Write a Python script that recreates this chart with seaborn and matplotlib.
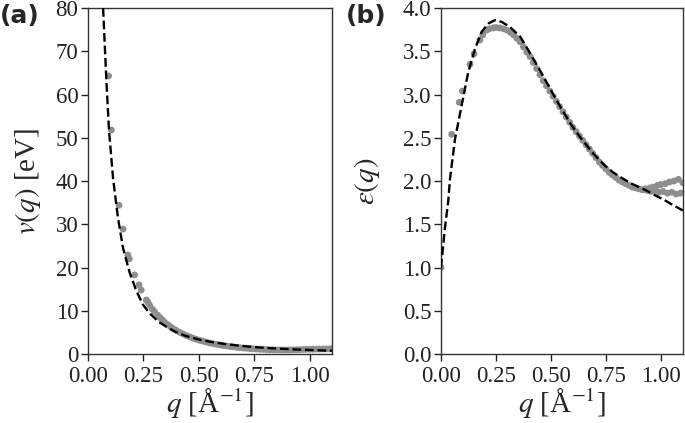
import matplotlib
matplotlib.use("Agg")
import matplotlib.pyplot as plt
import seaborn as sns
import pandas as pd
from matplotlib.ticker import FormatStrFormatter

# (a) v(q): data points and fit curve
qa_pts = [0.093, 0.105, 0.140, 0.158, 0.180, 0.186, 0.210, 0.230, 0.240, 0.263,
          0.270, 0.278, 0.290, 0.300, 0.315, 0.325, 0.335, 0.345, 0.360, 0.370,
          0.380, 0.390, 0.400, 0.415, 0.430, 0.445, 0.460, 0.475, 0.490, 0.505,
          0.520, 0.535, 0.550, 0.565, 0.580, 0.595, 0.610, 0.625, 0.640, 0.655,
          0.670, 0.685, 0.700, 0.715, 0.730, 0.745, 0.760, 0.775, 0.790, 0.805,
          0.820, 0.835, 0.850, 0.865, 0.880, 0.895, 0.910, 0.925, 0.940, 0.955,
          0.970, 0.985, 1.000, 1.015, 1.030, 1.045, 1.060, 1.075, 1.090, 1.100]
va_pts = [64.3, 51.8, 34.4, 28.9, 22.9, 22.0, 18.3, 16.0, 14.8, 12.5,
          12.0, 11.3, 10.4, 9.8, 9.0, 8.4, 7.9, 7.4, 6.8, 6.4,
          6.0, 5.7, 5.4, 5.0, 4.6, 4.25, 3.95, 3.65, 3.4, 3.15,
          2.95, 2.75, 2.55, 2.4, 2.25, 2.1, 1.97, 1.85, 1.75, 1.65,
          1.56, 1.48, 1.4, 1.34, 1.28, 1.22, 1.17, 1.12, 1.08, 1.04,
          1.0, 0.98, 0.96, 0.95, 0.94, 0.94, 0.95, 0.97, 0.99, 1.02,
          1.05, 1.08, 1.1, 1.12, 1.14, 1.15, 1.17, 1.18, 1.19, 1.2]
qa_fit = [0.068, 0.075, 0.083, 0.095, 0.113, 0.135, 0.158, 0.188, 0.218, 0.248,
          0.280, 0.320, 0.360, 0.400, 0.440, 0.500, 0.560, 0.620, 0.680, 0.740,
          0.800, 0.860, 0.920, 0.980, 1.040, 1.100]
va_fit = [80, 72, 63, 51.5, 40.6, 31.5, 24.5, 18.8, 14.6, 11.4,
          9.3, 7.4, 6.1, 5.0, 4.2, 3.35, 2.75, 2.3, 1.95, 1.65,
          1.42, 1.25, 1.1, 0.97, 0.87, 0.77]

# (b) epsilon(q)
qb_pts = [0.0, 0.0485, 0.083, 0.097, 0.132, 0.150, 0.177, 0.190, 0.208, 0.220,
          0.238, 0.250, 0.268, 0.285, 0.300, 0.315, 0.330, 0.345, 0.360, 0.375,
          0.390, 0.405, 0.420, 0.435, 0.450, 0.465, 0.480, 0.495, 0.510, 0.525,
          0.540, 0.555, 0.570, 0.585, 0.600, 0.615, 0.630, 0.645, 0.660, 0.675,
          0.690, 0.705, 0.720, 0.735, 0.750, 0.765, 0.780, 0.795, 0.810, 0.825,
          0.840, 0.855, 0.870, 0.885, 0.900, 0.915, 0.925, 0.930, 0.940, 0.950,
          0.955, 0.965, 0.975, 0.985, 0.990, 1.000, 1.010, 1.020, 1.030, 1.040,
          1.050, 1.060, 1.070, 1.080, 1.090, 1.100]
eb_pts = [1.0, 2.54, 2.91, 3.04, 3.35, 3.47, 3.63, 3.69, 3.745, 3.76,
          3.77, 3.775, 3.77, 3.76, 3.745, 3.72, 3.69, 3.65, 3.61, 3.55,
          3.49, 3.44, 3.37, 3.30, 3.23, 3.16, 3.10, 3.04, 2.98, 2.92,
          2.86, 2.80, 2.74, 2.68, 2.62, 2.57, 2.52, 2.47, 2.42, 2.37,
          2.32, 2.27, 2.22, 2.18, 2.14, 2.10, 2.07, 2.04, 2.01, 1.99,
          1.97, 1.95, 1.93, 1.92, 1.91, 1.90, 1.90, 1.91, 1.89, 1.92,
          1.88, 1.93, 1.89, 1.95, 1.87, 1.96, 1.88, 1.97, 1.86, 1.99,
          1.87, 2.00, 1.85, 2.02, 1.86, 1.98]
qb_fit = [0.0, 0.018, 0.033, 0.041, 0.064, 0.094, 0.124, 0.155, 0.185, 0.215,
          0.245, 0.276, 0.314, 0.360, 0.400, 0.450, 0.500, 0.540, 0.590, 0.632,
          0.692, 0.745, 0.783, 0.820, 0.859, 0.900, 0.935, 0.970, 1.010, 1.050, 1.100]
eb_fit = [1.0, 1.46, 1.77, 2.03, 2.49, 2.875, 3.26, 3.53, 3.725, 3.82,
          3.86, 3.84, 3.78, 3.67, 3.50, 3.28, 3.05, 2.87, 2.66, 2.51,
          2.32, 2.18, 2.10, 2.04, 1.98, 1.93, 1.89, 1.84, 1.79, 1.73, 1.66]

sns.set_style("ticks")
plt.rcParams["font.family"] = ["Liberation Serif", "DejaVu Serif"]
plt.rcParams["mathtext.fontset"] = "stix"

fig = plt.figure(figsize=(6.85, 4.23), dpi=100)
ax1 = fig.add_axes([0.1285, 0.163, 0.356, 0.818])
ax2 = fig.add_axes([0.6438, 0.163, 0.353, 0.818])

pt_color = "#8e8e8e"

dfa = pd.DataFrame({"q": qa_pts, "v": va_pts})
dfa_fit = pd.DataFrame({"q": qa_fit, "v": va_fit})
sns.scatterplot(data=dfa, x="q", y="v", ax=ax1, color=pt_color, s=24,
                edgecolor="none", zorder=2)
sns.lineplot(data=dfa_fit, x="q", y="v", ax=ax1, color="black", lw=1.7,
             linestyle="--", sort=False, estimator=None, zorder=3)

dfb = pd.DataFrame({"q": qb_pts, "eps": eb_pts})
dfb_fit = pd.DataFrame({"q": qb_fit, "eps": eb_fit})
sns.scatterplot(data=dfb, x="q", y="eps", ax=ax2, color=pt_color, s=24,
                edgecolor="none", zorder=2)
sns.lineplot(data=dfb_fit, x="q", y="eps", ax=ax2, color="black", lw=1.7,
             linestyle="--", sort=False, estimator=None, zorder=3)

ax1.set_xlim(0, 1.1)
ax1.set_ylim(0, 80)
ax1.set_yticks(range(0, 81, 10))
ax2.set_xlim(0, 1.1)
ax2.set_ylim(0, 4.0)
ax2.set_yticks([0, 0.5, 1.0, 1.5, 2.0, 2.5, 3.0, 3.5, 4.0])
ax2.yaxis.set_major_formatter(FormatStrFormatter("%.1f"))

for ax in (ax1, ax2):
    ax.set_xticks([0, 0.25, 0.5, 0.75, 1.0])
    ax.xaxis.set_major_formatter(FormatStrFormatter("%.2f"))
    ax.tick_params(direction="out", length=5, width=1, labelsize=16.5,
                   colors="#222222")
    ax.tick_params(axis="x", pad=3.5)
    ax.tick_params(axis="y", pad=2)
    for sp in ax.spines.values():
        sp.set_color("#333333")
        sp.set_linewidth(1.0)
    ax.set_xlabel(r"$q$ [Å$^{-1}$]", fontsize=21, labelpad=0)

ax1.set_ylabel(r"$v(q)$ [eV]", fontsize=21)
ax1.yaxis.set_label_coords(-0.185, 0.5)
ax2.set_ylabel(r"$\varepsilon(q)$", fontsize=21)
ax2.yaxis.set_label_coords(-0.245, 0.5)

fig.text(0.0, 0.962, "(a)", fontsize=18, fontweight="bold", family="DejaVu Sans",
         va="center", ha="left")
fig.text(0.505, 0.962, "(b)", fontsize=18, fontweight="bold", family="DejaVu Sans",
         va="center", ha="left")

fig.savefig("out.png", dpi=100)
